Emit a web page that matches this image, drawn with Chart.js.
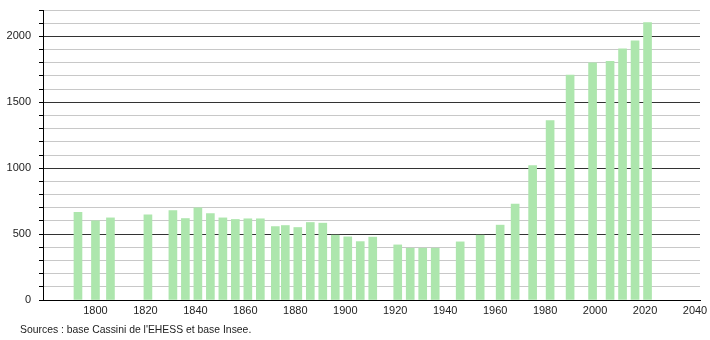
<!DOCTYPE html>
<html>
<head>
<meta charset="utf-8">
<script src="https://cdn.jsdelivr.net/npm/chart.js@4/dist/chart.umd.min.js"></script>
<style>
  html, body { margin: 0; padding: 0; background: #fff; }
  #wrap { position: relative; width: 710px; height: 340px; }
  #source { position: absolute; left: 20px; top: 324px; font: 10.4px "Liberation Sans", Arial, sans-serif; color: #222; }
</style>
</head>
<body>
<div id="wrap">
  <canvas id="chart-pop" width="710" height="340"></canvas>
  <div id="source">Sources : base Cassini de l'EHESS et base Insee.</div>
</div>
<script>
// census years and population
var years = [1793, 1800, 1806, 1821, 1831, 1836, 1841, 1846, 1851, 1856, 1861, 1866,
             1872, 1876, 1881, 1886, 1891, 1896, 1901, 1906, 1911, 1921, 1926, 1931,
             1936, 1946, 1954, 1962, 1968, 1975, 1982, 1990, 1999, 2006, 2011, 2016, 2021];
var population = [665, 601, 623, 646, 679, 618, 700, 656, 623, 611, 616, 616,
                  557, 565, 550, 588, 583, 492, 479, 443, 477, 418, 393, 393,
                  393, 441, 492, 568, 728, 1019, 1361, 1706, 1800, 1810, 1906, 1967, 2104];

// axis ticks
var xTicks = [1800, 1820, 1840, 1860, 1880, 1900, 1920, 1940, 1960, 1980, 2000, 2020, 2040];
var yTicks = [];
for (var v = 0; v <= 2200; v += 100) yTicks.push(v);

var ctx = document.getElementById("chart-pop").getContext("2d");

new Chart(ctx, {
    type: "bar",
    data: {
        datasets: [{
            label: "Population",
            data: years.map((y, i) => ({ x: y, y: population[i] })),
            backgroundColor: "#ade6ad",
            borderWidth: 0,
            barThickness: 8
        }]
    },
    options: {
        responsive: false,
        animation: false,
        layout: { padding: { left: 0, right: 10, top: 10, bottom: 0 } },
        plugins: {
            legend: { display: false },
            tooltip: { enabled: false }
        },
        scales: {
            x: {
                type: "linear",
                offset: false,
                min: 1779,
                max: 2042,
                afterBuildTicks: scale => { scale.ticks = xTicks.map(t => ({ value: t })); },
                afterFit: scale => { scale.height = 40; scale.paddingLeft = 0; scale.paddingRight = 0; },
                grid: { display: false, drawTicks: false },
                border: { display: true, color: "#000", width: 1 },
                ticks: {
                    color: "#222",
                    padding: 4,
                    maxRotation: 0,
                    autoSkip: false,
                    font: { family: "Liberation Sans", size: 11 },
                    callback: v => String(v)
                }
            },
            y: {
                min: 0,
                max: 2200,
                afterBuildTicks: scale => { scale.ticks = yTicks.map(t => ({ value: t })); },
                afterFit: scale => { scale.width = 43; scale.paddingTop = 0; scale.paddingBottom = 0; },
                grid: {
                    color: c => (c.tick && c.tick.value % 500 === 0) ? "#333" : "#c8c8c8",
                    lineWidth: 1,
                    drawTicks: true,
                    tickLength: 4,
                    tickColor: "#000"
                },
                border: { display: true, color: "#000", width: 1 },
                ticks: {
                    color: "#222",
                    padding: 8,
                    autoSkip: false,
                    font: { family: "Liberation Sans", size: 11 },
                    callback: v => (v % 500 === 0 ? String(v) : "")
                }
            }
        }
    }
});
</script>
</body>
</html>
